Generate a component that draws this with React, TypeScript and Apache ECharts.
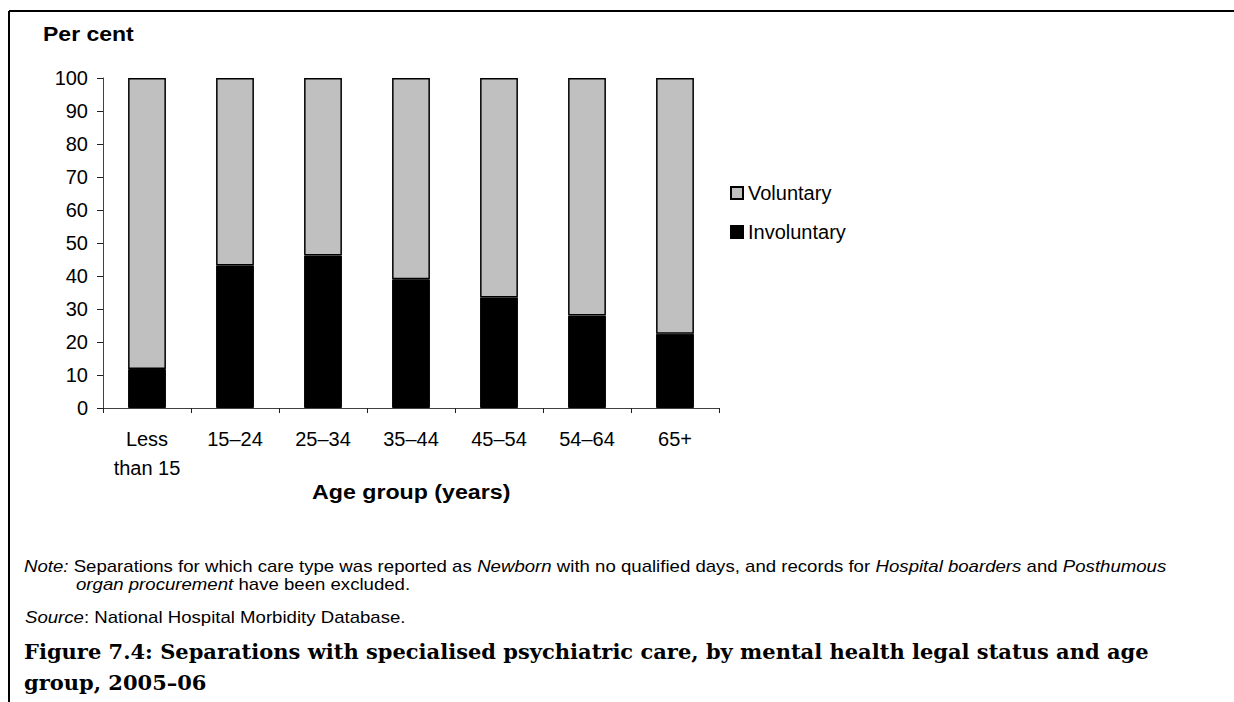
import React, { useEffect, useRef } from "react";
import * as echarts from "echarts";

const categories = ["Less\nthan 15", "15–24", "25–34", "35–44", "45–54", "54–64", "65+"];
const involuntary = [11.8, 43.2, 46.2, 39.0, 33.5, 28.0, 22.5];
const voluntary = [88.2, 56.8, 53.8, 61.0, 66.5, 72.0, 77.5];
const yTicks = { min: 0, max: 100, interval: 10 };

const SANS = "Liberation Sans, Arial, sans-serif";
const SERIF = "DejaVu Serif, serif";

export default function App() {
  const ref = useRef<HTMLDivElement>(null);
  useEffect(() => {
    document.body.style.margin = "0";
    const chart = echarts.init(ref.current!, null, { renderer: "svg" });
    const richI = { i: { fontStyle: "italic", fontFamily: SANS, fontSize: 17 } };
    chart.setOption({
      animation: false,
      grid: { left: 103, right: 515, top: 78, bottom: 294 },
      legend: {
        data: ["Voluntary", "Involuntary"],
        orient: "vertical",
        left: 725,
        top: 178,
        itemWidth: 12,
        itemHeight: 12,
        itemGap: 19,
        icon: "rect",
        textStyle: { fontFamily: SANS, fontSize: 20, color: "#000", padding: [0, 0, 0, 0] },
      },
      xAxis: {
        type: "category",
        data: categories,
        axisLine: { lineStyle: { color: "#404040", width: 1 } },
        axisTick: { show: true, length: 5, lineStyle: { color: "#202020" } },
        axisLabel: { fontFamily: SANS, fontSize: 20, color: "#000", lineHeight: 29, margin: 16, interval: 0 },
      },
      yAxis: {
        type: "value",
        min: yTicks.min,
        max: yTicks.max,
        interval: yTicks.interval,
        axisLine: { show: true, lineStyle: { color: "#404040", width: 1 } },
        axisTick: { show: true, length: 6, lineStyle: { color: "#202020" } },
        splitLine: { show: false },
        axisLabel: { fontFamily: SANS, fontSize: 20, color: "#000", margin: 15 },
      },
      series: [
        {
          name: "Involuntary",
          type: "bar",
          stack: "total",
          data: involuntary,
          barWidth: "43%",
          itemStyle: { color: "#000", borderColor: "#000", borderWidth: 1 },
        },
        {
          name: "Voluntary",
          type: "bar",
          stack: "total",
          data: voluntary,
          barWidth: "43%",
          itemStyle: { color: "#c0c0c0", borderColor: "#000", borderWidth: 1.5 },
        },
      ],
      graphic: [
        { type: "line", shape: { x1: 9, y1: 11, x2: 1234, y2: 11 }, style: { stroke: "#000", lineWidth: 2 } },
        { type: "line", shape: { x1: 9, y1: 11, x2: 9, y2: 702 }, style: { stroke: "#000", lineWidth: 2 } },
        {
          type: "text",
          x: 43,
          y: 34,
          scaleX: 1.15,
          style: { text: "Per cent", font: `bold 20px ${SANS}`, fill: "#000", verticalAlign: "middle" },
        },
        {
          type: "text",
          x: 312,
          y: 492,
          scaleX: 1.16,
          style: { text: "Age group (years)", font: `bold 20px ${SANS}`, fill: "#000", verticalAlign: "middle" },
        },
        {
          type: "text",
          x: 24,
          y: 566,
          scaleX: 1.095,
          style: {
            text: "{i|Note:} Separations for which care type was reported as {i|Newborn} with no qualified days, and records for {i|Hospital boarders} and {i|Posthumous}",
            font: `17px ${SANS}`,
            fill: "#000",
            verticalAlign: "middle",
            rich: richI,
          },
        },
        {
          type: "text",
          x: 76,
          y: 584,
          scaleX: 1.095,
          style: {
            text: "{i|organ procurement} have been excluded.",
            font: `17px ${SANS}`,
            fill: "#000",
            verticalAlign: "middle",
            rich: richI,
          },
        },
        {
          type: "text",
          x: 25,
          y: 617,
          scaleX: 1.095,
          style: {
            text: "{i|Source}: National Hospital Morbidity Database.",
            font: `17px ${SANS}`,
            fill: "#000",
            verticalAlign: "middle",
            rich: richI,
          },
        },
        {
          type: "text",
          x: 24,
          y: 652,
          scaleX: 1.05,
          style: {
            text: "Figure 7.4: Separations with specialised psychiatric care, by mental health legal status and age",
            font: `bold 20px ${SERIF}`,
            fill: "#000",
            verticalAlign: "middle",
          },
        },
        {
          type: "text",
          x: 24,
          y: 683,
          scaleX: 1.05,
          style: { text: "group, 2005–06", font: `bold 20px ${SERIF}`, fill: "#000", verticalAlign: "middle" },
        },
      ],
    });
    return () => chart.dispose();
  }, []);
  return <div ref={ref} style={{ position: "absolute", left: 0, top: 0, width: 1234, height: 702 }} />;
}
